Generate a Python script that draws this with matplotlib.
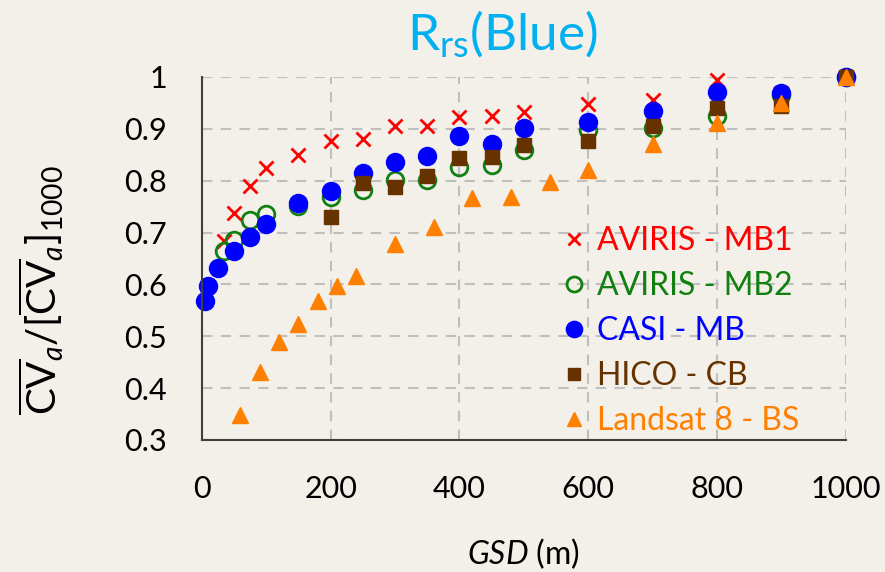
import matplotlib
matplotlib.use('Agg')
import matplotlib.pyplot as plt

plt.rcParams['font.family'] = ['Lato', 'DejaVu Sans']
plt.rcParams['mathtext.fontset'] = 'custom'
plt.rcParams['mathtext.rm'] = 'Lato'
plt.rcParams['mathtext.it'] = 'Lato:italic'

# data
gsd_aviris = [35, 50, 75, 100, 150, 200, 250, 300, 350, 400, 450, 500, 600, 700, 800, 900, 1000]
mb1 = [0.683, 0.738, 0.789, 0.824, 0.849, 0.876, 0.880, 0.905, 0.905, 0.923, 0.925, 0.933,
       0.948, 0.956, 0.995, 0.970, 1.0]
mb2 = [0.665, 0.686, 0.725, 0.735, 0.751, 0.769, 0.782, 0.802, 0.802, 0.826, 0.831, 0.860,
       0.898, 0.901, 0.925, 0.966, 1.0]

gsd_casi = [5, 10, 25, 50, 75, 100, 150, 200, 250, 300, 350, 400, 450, 500, 600, 700, 800, 900, 1000]
casi = [0.568, 0.596, 0.631, 0.664, 0.692, 0.717, 0.757, 0.780, 0.815, 0.836, 0.848, 0.887,
        0.871, 0.902, 0.913, 0.935, 0.971, 0.969, 1.0]

gsd_hico = [200, 250, 300, 350, 400, 450, 500, 600, 700, 800, 900, 1000]
hico = [0.730, 0.796, 0.788, 0.809, 0.844, 0.846, 0.869, 0.877, 0.906, 0.940, 0.945, 1.0]

gsd_landsat = [60, 90, 120, 150, 180, 210, 240, 300, 360, 420, 480, 540, 600, 700, 800, 900, 1000]
landsat = [0.349, 0.432, 0.488, 0.524, 0.568, 0.597, 0.616, 0.677, 0.710, 0.766, 0.768, 0.798,
           0.821, 0.870, 0.911, 0.950, 1.0]

colors = ['#FF0000', '#118011', '#0000FF', '#663300', '#FF7F00']

bg = '#F3F0E9'
fig = plt.figure(figsize=(8.85, 5.72), dpi=100, facecolor=bg)
ax = fig.add_axes([0.228, 0.2308, 0.7277, 0.6346], facecolor=bg)

ax.plot(gsd_aviris, mb1, 'x', color=colors[0], ms=10, mew=2, label='AVIRIS - MB1', clip_on=False)
ax.plot(gsd_aviris, mb2, 'o', mfc='none', mec=colors[1], ms=12, mew=2, label='AVIRIS - MB2', clip_on=False)
ax.plot(gsd_casi, casi, 'o', color=colors[2], ms=13, label='CASI - MB', clip_on=False)
ax.plot(gsd_hico, hico, 's', color=colors[3], ms=10, label='HICO - CB', clip_on=False)
ax.plot(gsd_landsat, landsat, '^', color=colors[4], ms=11, label='Landsat 8 - BS', clip_on=False)

ax.set_xlim(0, 1000)
ax.set_ylim(0.3, 1.0)
ax.set_xticks([0, 200, 400, 600, 800, 1000])
ax.set_yticks([0.3, 0.4, 0.5, 0.6, 0.7, 0.8, 0.9, 1.0])
ax.set_yticklabels(['0.3', '0.4', '0.5', '0.6', '0.7', '0.8', '0.9', '1'])
ax.tick_params(length=0, labelsize=22, pad=25)
ax.grid(True, color='#BFBFBF', ls=(0, (5, 4)), lw=1.5)
ax.set_axisbelow(True)
for s in ['top', 'right']:
    ax.spines[s].set_visible(False)
for s in ['left', 'bottom']:
    ax.spines[s].set_color('#404040')
    ax.spines[s].set_linewidth(1.5)

leg = ax.legend(loc='upper left', bbox_to_anchor=(0.534, 0.625), frameon=False, fontsize=23,
                handletextpad=0.2, labelspacing=0.47, markerscale=0.9, handlelength=1.0,
                borderaxespad=0)
for t, c in zip(leg.get_texts(), colors):
    t.set_color(c)

fig.text(502 / 885, 1 - 50 / 572, r'R$_{\mathregular{rs}}$(Blue)', color='#00B0F0', fontsize=37,
         ha='center', va='baseline')
ax.set_xlabel(r'$\mathit{GSD}$ (m)', fontsize=23, labelpad=24)
fig.text(41 / 885, 1 - 290 / 572, r'$\overline{\mathrm{CV}}_{\mathit{a}}/[\overline{\mathrm{CV}}_{\mathit{a}}]_{1000}$',
         fontsize=29, rotation=90, ha='center', va='center')

fig.savefig('out.png', dpi=100, facecolor=bg)
